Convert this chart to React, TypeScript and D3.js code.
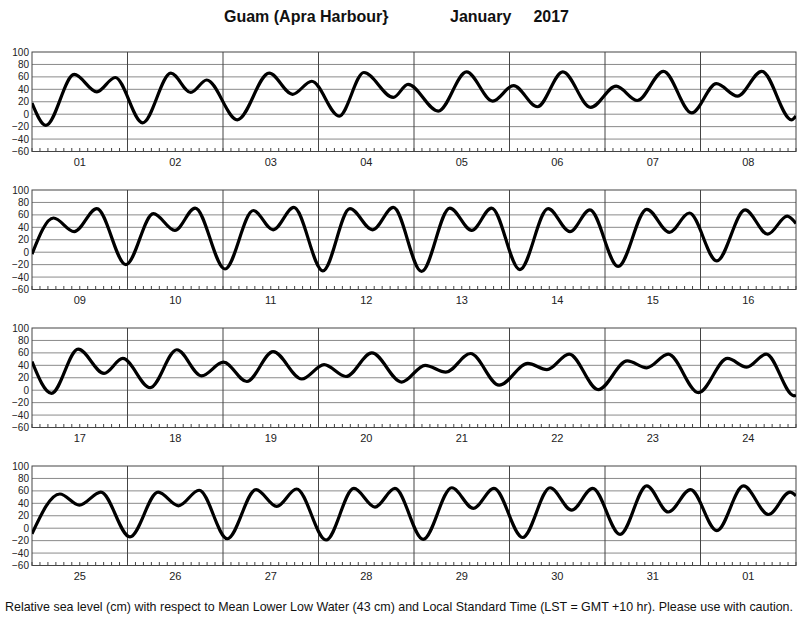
import React from "react";
import * as d3 from "d3";

// ---------- data ----------
const titleStation = "Guam (Apra Harbour}";
const titleMonth = "January";
const titleYear = "2017";
const footer =
  "Relative sea level (cm) with respect to Mean Lower Low Water (43 cm) and Local Standard Time (LST = GMT +10 hr). Please use with caution.";

const yTicks = [100, 80, 60, 40, 20, 0, -20, -40, -60];

const days1 = ["01", "02", "03", "04", "05", "06", "07", "08"];
const days2 = ["09", "10", "11", "12", "13", "14", "15", "16"];
const days3 = ["17", "18", "19", "20", "21", "22", "23", "24"];
const days4 = ["25", "26", "27", "28", "29", "30", "31", "01"];

// hours from panel start (0..192)
const hours1 = [0, 3.5, 10.6, 16.3, 20.9, 27.8, 34.9, 39.9, 43.9, 51.6, 59.6, 65.5, 70.3, 77.2, 83.4, 90.8, 94.5, 102.1, 109.2, 115.8, 121, 127, 133.4, 140.4, 146.8, 152.1, 158.7, 165.8, 172, 177.3, 183.4, 190.9, 192];
const level1 = [18, -18, 64, 36, 59, -14, 66, 35, 55, -9, 66, 32, 53, -3, 67, 27, 48, 5, 68, 21, 46, 12, 68, 11, 45, 22, 69, 2, 49, 29, 69, -9, -3];

const hours2 = [0, 5.4, 10.6, 16.3, 23.6, 30.5, 35.9, 41, 48.5, 55.6, 60.6, 65.8, 73.1, 79.9, 85.6, 90.8, 97.9, 105, 110.5, 115.5, 122.6, 129.7, 135.2, 140.2, 147.3, 154.5, 160.2, 165.2, 172.1, 179.2, 184.9, 189.8, 192];
const level2 = [-3, 55, 33, 70, -20, 62, 35, 71, -27, 67, 36, 72, -30, 70, 36, 72, -31, 71, 35, 71, -28, 70, 33, 68, -23, 69, 32, 63, -14, 68, 29, 58, 46];

const hours3 = [0, 4.9, 11.6, 18.1, 22.8, 29.7, 36.4, 42.6, 48.1, 54, 60.6, 67.8, 73.4, 78.9, 85.4, 92.9, 98.8, 104, 110.2, 117.4, 124.6, 129.4, 135, 142.3, 149.6, 154.5, 159.9, 167.5, 174.8, 179.6, 184.5, 191.5, 192];
const level3 = [46, -5, 66, 27, 51, 4, 65, 23, 45, 14, 62, 18, 41, 22, 60, 13, 40, 29, 59, 8, 43, 33, 58, 1, 47, 36, 58, -4, 51, 37, 58, -9, -8];

const hours4 = [0, 7, 11.9, 17.3, 24.6, 31.7, 36.8, 42, 49.1, 56.3, 61.5, 66.5, 73.9, 80.9, 86.2, 91.2, 98.3, 105.5, 110.9, 116.1, 123.3, 130.2, 135.6, 140.9, 147.8, 154.5, 159.9, 165.5, 172.1, 178.8, 185.1, 190.5, 192];
const level4 = [-9, 55, 37, 58, -14, 58, 36, 61, -17, 62, 35, 63, -19, 64, 34, 64, -18, 65, 32, 64, -15, 65, 29, 64, -10, 68, 26, 62, -4, 68, 22, 58, 52];

const panelDays = [days1, days2, days3, days4];
const panelHours = [hours1, hours2, hours3, hours4];
const panelLevels = [level1, level2, level3, level4];

// ---------- layout ----------
const W = 800;
const H = 618;
const left = 32;
const right = 796;
const panelTops = [52, 190, 328, 466];
const panelH = 99.5;
const font = "'Liberation Sans', Arial, Helvetica, sans-serif";

const fmt = d3.format("d");

function Panel({ top, days, hours, levels }: { top: number; days: string[]; hours: number[]; levels: number[] }) {
  const x = d3.scaleLinear().domain([0, 192]).range([left, right]);
  const y = d3.scaleLinear().domain([-60, 100]).range([top + panelH, top]);
  const pts: [number, number][] = hours.map((h, i) => [h, levels[i]]);
  const line = d3
    .line<[number, number]>()
    .x((d) => x(d[0]))
    .y((d) => y(d[1]))
    .curve(d3.curveMonotoneX);
  const ticks = d3.range(0, 193, 2);
  const dayBounds = d3.range(1, 8).map((d) => d * 24);
  return (
    <g>
      {yTicks.map((t) => (
        <g key={t}>
          {t !== 100 && t !== -60 && (
            <line x1={left} x2={right} y1={y(t)} y2={y(t)} stroke="#8a8a8a" strokeWidth={1} />
          )}
          <text x={left - 3} y={y(t)} dy="0.35em" textAnchor="end" fontFamily={font} fontSize={10} fill="#222">
            {fmt(t)}
          </text>
        </g>
      ))}
      {ticks.map((t) => (
        <line key={t} x1={x(t)} x2={x(t)} y1={top + panelH} y2={top + panelH - 3.5} stroke="#444" strokeWidth={1} />
      ))}
      {dayBounds.map((b) => (
        <line key={b} x1={x(b)} x2={x(b)} y1={top} y2={top + panelH} stroke="#444" strokeWidth={1} />
      ))}
      <rect x={left} y={top} width={right - left} height={panelH} fill="none" stroke="#444" strokeWidth={1} />
      <clipPath id={`clip${top}`}>
        <rect x={left} y={top - 5} width={right - left} height={panelH + 10} />
      </clipPath>
      <path d={line(pts) || ""} fill="none" stroke="#000" strokeWidth={3.2} clipPath={`url(#clip${top})`} />
      {days.map((d, i) => (
        <text key={i} x={x(i * 24 + 12)} y={top + panelH + 14} textAnchor="middle" fontFamily={font} fontSize={11} fill="#222">
          {d}
        </text>
      ))}
    </g>
  );
}

export default function App() {
  return (
    <svg width={W} height={H} style={{ position: "absolute", left: 0, top: 0, background: "#fff" }}>
      <rect x={0} y={0} width={W} height={H} fill="#fff" />
      <text x={224} y={22} fontFamily={font} fontSize={16} fontWeight="bold" fill="#111">
        {titleStation}
      </text>
      <text x={450} y={22} fontFamily={font} fontSize={16} fontWeight="bold" fill="#111">
        {titleMonth}
      </text>
      <text x={569} y={22} textAnchor="end" fontFamily={font} fontSize={16} fontWeight="bold" fill="#111">
        {titleYear}
      </text>
      {panelTops.map((t, i) => (
        <Panel key={i} top={t} days={panelDays[i]} hours={panelHours[i]} levels={panelLevels[i]} />
      ))}
      <text x={5} y={611} fontFamily={font} fontSize={12.4} textLength={788} lengthAdjust="spacingAndGlyphs" fill="#111">
        {footer}
      </text>
    </svg>
  );
}
